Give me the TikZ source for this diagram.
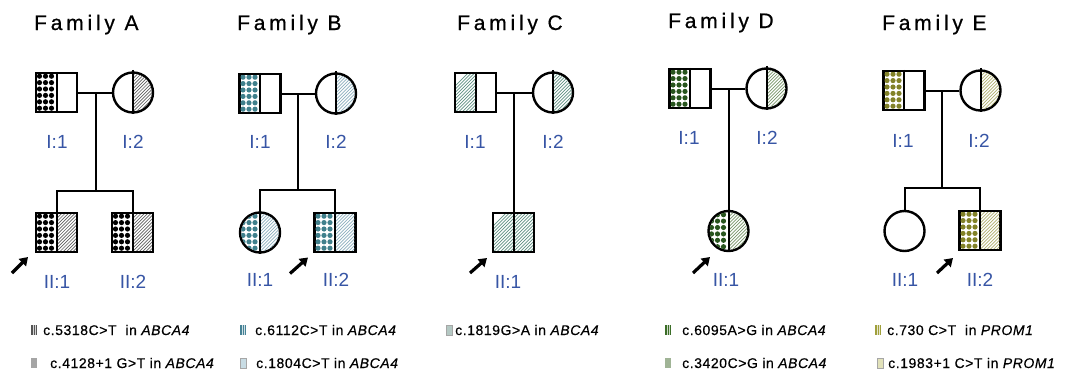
\documentclass[tikz,border=0pt]{standalone}
\usepackage{fontspec}
\setmainfont{Liberation Sans}
\newfontfamily\titlefont[LetterSpace=18,FakeBold=0.6]{Liberation Sans}
\newfontfamily\legendfont[LetterSpace=4,FakeBold=0.4]{Liberation Sans}
\usetikzlibrary{arrows.meta}

\definecolor{idblue}{RGB}{55,85,165}
\definecolor{dotA}{RGB}{0,0,0}
\definecolor{hatchA}{RGB}{95,95,95}
\definecolor{dotB}{RGB}{64,128,140}
\definecolor{hatchB}{RGB}{140,175,190}
\definecolor{hatchC}{RGB}{95,145,130}
\definecolor{dotD}{RGB}{40,85,30}
\definecolor{hatchD}{RGB}{120,150,105}
\definecolor{dotE}{RGB}{130,130,40}
\definecolor{hatchE}{RGB}{175,175,110}
% legend key colours
\definecolor{keyA1}{RGB}{85,85,85}
\definecolor{keyA2}{RGB}{165,165,165}
\definecolor{keyB1}{RGB}{70,130,150}
\definecolor{keyB2}{RGB}{200,220,228}
\definecolor{keyC1}{RGB}{180,200,195}
\definecolor{keyD1}{RGB}{60,110,40}
\definecolor{keyD2}{RGB}{160,180,150}
\definecolor{keyE1}{RGB}{160,160,60}
\definecolor{keyE2}{RGB}{225,225,185}

% clip to the inside of a symbol: #1 node, #2 m (square) or f (circle)
\newcommand\symclip[2]{%
  \if#2m\clip ([shift={(-19.3,-18.3)}]#1.center) rectangle ([shift={(19.3,18.3)}]#1.center);%
  \else\clip (#1.center) circle[radius=18.8];\fi}
% clip to one half: #1 node, #2 L or R
\newcommand\halfclip[2]{%
  \if#2L\clip ([shift={(-25,-25)}]#1.center) rectangle ([shift={(0,25)}]#1.center);%
  \else\clip ([shift={(0,-25)}]#1.center) rectangle ([shift={(25,25)}]#1.center);\fi}
% dotted half: node, m/f, L/R, colour
\newcommand\halfdots[4]{%
  \begin{scope}
    \symclip{#1}{#2}\halfclip{#1}{#3}
    \begin{scope}[shift={(#1.center)}]
      \foreach \c in {-1,0,1,2} \foreach \r in {-1,0,...,6}
        \fill[#4] (-17+6*\c, -16.3+6.4*\r) circle[radius=2.6];
    \end{scope}
  \end{scope}}
% hatched half: node, m/f, L/R, colour
\newcommand\halfhatch[4]{%
  \begin{scope}
    \symclip{#1}{#2}\halfclip{#1}{#3}
    \begin{scope}[shift={(#1.center)}]
      \foreach \k in {-52,-48.7,...,28}
        \draw[#4, line width=0.7pt] (\k,25) -- (\k+50,-25);
    \end{scope}
  \end{scope}}
% fine stripes on legend keys: #1 node, #2 key colour
\newcommand\keystripes[2]{%
  \begin{scope}[shift={(#1.north west)}]
    \foreach \q in {2,4} \draw[white!75!#2, line width=0.5pt] (\q,0) -- (\q,10);
  \end{scope}}

\tikzset{
  ind/.style={draw=black, line width=2.4pt, inner sep=0pt, fill=white},
  male/.style={ind, rectangle, minimum width=41pt, minimum height=39pt},
  female/.style={ind, circle, minimum size=40pt},
  link/.style={line width=2pt},
  midline/.style={line width=2pt},
  idlabel/.style={text=idblue, anchor=base, inner sep=0pt, font=\fontsize{19}{19}\selectfont},
  proband/.style={line width=3.2pt, -{Triangle[length=8pt,width=10pt]}},
  famtitle/.style={anchor=base west, inner sep=0pt, font=\titlefont\fontsize{21}{21}\selectfont},
  legtext/.style={anchor=base west, inner sep=0pt, font=\legendfont\fontsize{14}{14}\selectfont},
  legkey/.style={minimum width=6pt, minimum height=10pt, inner sep=0pt, outer sep=0pt, fill=#1},
}

\begin{document}
\begin{tikzpicture}[x=1pt, y=-1pt]
\useasboundingbox[fill=white] (0,0) rectangle (1082,375);

% ---------- titles ----------
\node[famtitle] (tA) at (34,30) {Family A};
\node[famtitle] (tB) at (237,30) {Family B};
\node[famtitle] (tC) at (457,30) {Family C};
\node[famtitle] (tD) at (668,28) {Family D};
\node[famtitle] (tE) at (882,30) {Family E};

% ---------- symbols ----------
\node[male]   (A11) at (56.5,92.5) {};
\node[female] (A12) at (133,92.5) {};
\node[male]   (A21) at (56.5,232.5) {};
\node[male]   (A22) at (132.5,232.5) {};

\node[male]   (B11) at (260,93.5) {};
\node[female] (B12) at (336,93.5) {};
\node[female] (B21) at (260,232.5) {};
\node[male]   (B22) at (335,232.5) {};

\node[male]   (C11) at (475.5,92.5) {};
\node[female] (C12) at (553,92.5) {};
\node[male]   (C21) at (513.5,232.5) {};

\node[male]   (D11) at (690,88.5) {};
\node[female] (D12) at (766.5,88.5) {};
\node[female] (D21) at (728.5,231) {};

\node[male]   (E11) at (904,90.5) {};
\node[female] (E12) at (980.5,90.5) {};
\node[female] (E21) at (904.5,231) {};
\node[male]   (E22) at (980,230.5) {};

% ---------- carrier fills ----------
\halfdots{A11}{m}{L}{dotA}
\halfhatch{A12}{f}{R}{hatchA}
\halfdots{A21}{m}{L}{dotA}\halfhatch{A21}{m}{R}{hatchA}
\halfdots{A22}{m}{L}{dotA}\halfhatch{A22}{m}{R}{hatchA}

\halfdots{B11}{m}{L}{dotB}
\halfhatch{B12}{f}{R}{hatchB}
\halfdots{B21}{f}{L}{dotB}\halfhatch{B21}{f}{R}{hatchB}
\halfdots{B22}{m}{L}{dotB}\halfhatch{B22}{m}{R}{hatchB}

\halfhatch{C11}{m}{L}{hatchC}
\halfhatch{C12}{f}{R}{hatchC}
\halfhatch{C21}{m}{L}{hatchC}\halfhatch{C21}{m}{R}{hatchC}

\halfdots{D11}{m}{L}{dotD}
\halfhatch{D12}{f}{R}{hatchD}
\halfdots{D21}{f}{L}{dotD}\halfhatch{D21}{f}{R}{hatchD}

\halfdots{E11}{m}{L}{dotE}
\halfhatch{E12}{f}{R}{hatchE}
\halfdots{E22}{m}{L}{dotE}\halfhatch{E22}{m}{R}{hatchE}

% ---------- dividing lines of the two alleles ----------
\foreach \n in {A11,A21,A22,B11,B22,C11,C21,D11,E11,E22}
  \draw[midline] (\n.north) -- (\n.south);
\foreach \n in {A12,B12,B21,C12,D12,D21,E12}
  \draw[midline] ([yshift=1.5pt]\n.north) -- (\n.south);

% ---------- lines of descent ----------
\coordinate (Am) at (96,92.5);
\coordinate (As) at (96,191);
\draw[link] (A11.east) -- (A12.west);
\draw[link] (Am) -- (As);
\draw[link] (A21.north) |- (As) -| (A22.north);

\coordinate (Bm) at (298,93.5);
\coordinate (Bs) at (298,190);
\draw[link] (B11.east) -- (B12.west);
\draw[link] (Bm) -- (Bs);
\draw[link] (B21.north) |- (Bs) -| (B22.north);

\coordinate (Cm) at (513.5,92.5);
\draw[link] (C11.east) -- (C12.west);
\draw[link] (Cm) -- (C21.north);

\coordinate (Dm) at (728.5,88.5);
\draw[link] (D11.east) -- (D12.west);
\draw[link] (Dm) -- (D21.north);

\coordinate (Em) at (942,90.5);
\coordinate (Es) at (942,188);
\draw[link] (E11.east) -- (E12.west);
\draw[link] (Em) -- (Es);
\draw[link] (E21.north) |- (Es) -| (E22.north);

% ---------- probands ----------
\draw[proband] ([shift={(-44.5,40.5)}]A21.center) -- ([shift={(-28.5,24.5)}]A21.center);
\draw[proband] ([shift={(-45,41)}]B22.center) -- ([shift={(-27,25)}]B22.center);
\draw[proband] ([shift={(-43.5,40.5)}]C21.center) -- ([shift={(-26.5,25.5)}]C21.center);
\draw[proband] ([shift={(-35.5,42)}]D21.center) -- ([shift={(-18.5,26)}]D21.center);
\draw[proband] ([shift={(-43,42.5)}]E22.center) -- ([shift={(-27,27.5)}]E22.center);

% ---------- identifiers ----------
\node[idlabel] (lA11) at (57,148) {I:1};
\node[idlabel] (lA12) at (133,148) {I:2};
\node[idlabel] (lA21) at (57,288) {II:1};
\node[idlabel] (lA22) at (133,288) {II:2};
\node[idlabel] (lB11) at (260,148) {I:1};
\node[idlabel] (lB12) at (336,148) {I:2};
\node[idlabel] (lB21) at (260,286) {II:1};
\node[idlabel] (lB22) at (336,286) {II:2};
\node[idlabel] (lC11) at (475,148) {I:1};
\node[idlabel] (lC12) at (553,148) {I:2};
\node[idlabel] (lC21) at (508,288) {II:1};
\node[idlabel] (lD11) at (689,144) {I:1};
\node[idlabel] (lD12) at (767,144) {I:2};
\node[idlabel] (lD21) at (726,286) {II:1};
\node[idlabel] (lE11) at (903,147) {I:1};
\node[idlabel] (lE12) at (979,147) {I:2};
\node[idlabel] (lE21) at (905,286) {II:1};
\node[idlabel] (lE22) at (980,286) {II:2};

% ---------- legend ----------
\node[legkey=keyA1] (kA1) at (34,330) {}; \keystripes{kA1}{keyA1}
\node[legtext] (xA1) at (43,335) {c.5318C>T\ \ in \textit{ABCA4}};
\node[legkey=keyA2] (kA2) at (34,363) {};
\node[legtext] (xA2) at (50,368) {c.4128+1 G>T in \textit{ABCA4}};

\node[legkey=keyB1] (kB1) at (243,330) {}; \keystripes{kB1}{keyB1}
\node[legtext] (xB1) at (255,335) {c.6112C>T in \textit{ABCA4}};
\node[legkey=keyB2, draw=gray!70, line width=0.5pt] (kB2) at (243,363) {};
\node[legtext] (xB2) at (256,368) {c.1804C>T in \textit{ABCA4}};

\node[legkey=keyC1, draw=gray!70, line width=0.5pt] (kC1) at (449,330) {};
\node[legtext] (xC1) at (455,335) {c.1819G>A in \textit{ABCA4}};

\node[legkey=keyD1] (kD1) at (668,330) {}; \keystripes{kD1}{keyD1}
\node[legtext] (xD1) at (682,335) {c.6095A>G in \textit{ABCA4}};
\node[legkey=keyD2] (kD2) at (668,363) {};
\node[legtext] (xD2) at (682,368) {c.3420C>G in \textit{ABCA4}};

\node[legkey=keyE1] (kE1) at (878,330) {}; \keystripes{kE1}{keyE1}
\node[legtext] (xE1) at (887,335) {c.730 C>T\ \ in \textit{PROM1}};
\node[legkey=keyE2, draw=gray!70, line width=0.5pt] (kE2) at (880,363) {};
\node[legtext] (xE2) at (888,368) {c.1983+1 C>T in \textit{PROM1}};
\end{tikzpicture}
\end{document}
